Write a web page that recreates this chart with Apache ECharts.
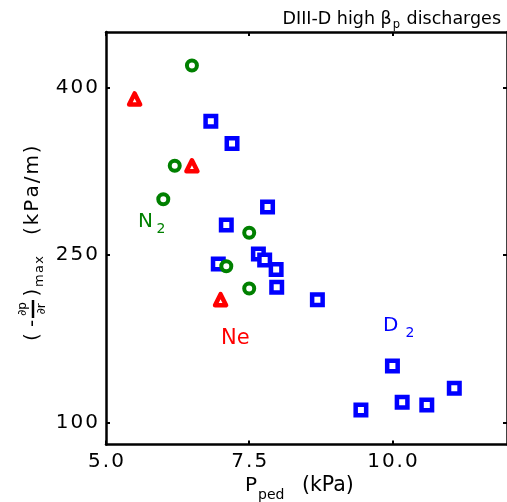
<!DOCTYPE html>
<html>
<head>
<meta charset="utf-8">
<script src="https://cdn.jsdelivr.net/npm/echarts@6/dist/echarts.min.js"></script>
<style>
html,body{margin:0;padding:0;background:#fff;}
#chart{width:507px;height:502px;}
</style>
</head>
<body>
<div id="chart"></div>
<script>
// ---- data ----
const xTicks = [5.0, 7.5, 10.0];
const yTicks = [100, 250, 400];
const xRange = [5, 12];
const yRange = [80, 450];

// D2 discharges (blue squares): [P_ped (kPa), max pressure gradient (kPa/m)]
const d2Data = [
  [6.83, 370], [7.2, 350], [7.82, 293], [7.1, 277], [7.66, 251],
  [7.77, 245.5], [7.97, 237], [6.96, 242], [7.98, 221], [8.69, 210],
  [10.0, 150.5], [9.45, 111], [10.17, 118], [10.6, 115.5], [11.08, 130.5]
];
// N2 seeded (green circles)
const n2Data = [[6.5, 420], [6.2, 330], [6.0, 300], [7.5, 270], [7.1, 240], [7.5, 220]];
// Ne seeded (red triangles)
const neData = [[5.5, 390], [6.5, 330], [7.0, 210]];

const FONT = 'DejaVu Sans';
const spaced = s => String(s).split('').join('\u200A');

const chart = echarts.init(document.getElementById('chart'), null, {renderer: 'canvas'});

const axisLineStyle = {color: '#000', width: 2.5};
const tickStyle = {color: '#000', width: 2};

const option = {
  animation: false,
  backgroundColor: '#fff',
  grid: {left: 106, right: 0, top: 32, bottom: 57.4, containLabel: false},
  xAxis: [{
    type: 'value', min: xRange[0], max: xRange[1], position: 'bottom',
    axisLine: {show: true, onZero: false, lineStyle: axisLineStyle},
    axisTick: {show: true, inside: true, length: 4, lineStyle: tickStyle, customValues: xTicks},
    axisLabel: {show: true, customValues: xTicks, margin: 7, color: '#000',
      fontFamily: FONT, fontSize: 20, formatter: v => spaced(Number(v).toFixed(1))},
    splitLine: {show: false}
  }, {
    type: 'value', min: xRange[0], max: xRange[1], position: 'top',
    axisLine: {show: true, onZero: false, lineStyle: axisLineStyle},
    axisTick: {show: true, inside: true, length: 4, lineStyle: tickStyle, customValues: xTicks},
    axisLabel: {show: false}, splitLine: {show: false}
  }],
  yAxis: [{
    type: 'value', min: yRange[0], max: yRange[1], position: 'left',
    axisLine: {show: true, onZero: false, lineStyle: axisLineStyle},
    axisTick: {show: true, inside: true, length: 4, lineStyle: tickStyle, customValues: yTicks},
    axisLabel: {show: true, customValues: yTicks, margin: 8, color: '#000',
      fontFamily: FONT, fontSize: 20, formatter: v => spaced(String(v))},
    splitLine: {show: false}
  }, {
    type: 'value', min: yRange[0], max: yRange[1], position: 'right',
    axisLine: {show: true, onZero: false, lineStyle: axisLineStyle},
    axisTick: {show: true, inside: true, length: 4, lineStyle: tickStyle, customValues: yTicks},
    axisLabel: {show: false}, splitLine: {show: false}
  }],
  series: [{
    name: 'D2', type: 'scatter', data: d2Data, symbol: 'rect', symbolSize: 10.5,
    itemStyle: {color: '#fff', borderColor: '#0000ff', borderWidth: 4.5, opacity: 1}
  }, {
    name: 'N2', type: 'scatter', data: n2Data, symbol: 'circle', symbolSize: 10,
    itemStyle: {color: '#fff', borderColor: '#008000', borderWidth: 4, opacity: 1}
  }, {
    name: 'Ne', type: 'scatter', data: neData, symbol: 'triangle', symbolSize: 11,
    itemStyle: {color: '#fff', borderColor: '#ff0000', borderWidth: 4.5, borderJoin: 'round', opacity: 1}
  }],
  graphic: [
    // title
    {type: 'text', right: 6, top: 10, style: {
      text: '{a|DIII-D high β}{s|p}{a| discharges}',
      rich: {
        a: {fontFamily: FONT, fontSize: 17.5, fill: '#000', lineHeight: 17, verticalAlign: 'top'},
        s: {fontFamily: FONT, fontSize: 11.5, fill: '#000', lineHeight: 11, padding: [9, 1, 0, 1], verticalAlign: 'top'}
      }
    }},
    // x axis title
    {type: 'text', x: 245, y: 486, style: {text: 'P', fontFamily: FONT, fontSize: 20, fill: '#000', align: 'left', verticalAlign: 'middle'}},
    {type: 'text', x: 258, y: 495, style: {text: 'ped', fontFamily: FONT, fontSize: 14, fill: '#000', align: 'left', verticalAlign: 'middle'}},
    {type: 'text', x: 302, y: 486, style: {text: '(kPa)', fontFamily: FONT, fontSize: 20.5, fill: '#000', align: 'left', verticalAlign: 'middle'}},
    // y axis title (rotated group)
    {type: 'group', x: 32.5, y: 342, rotation: Math.PI / 2, children: [
      {type: 'text', x: 1, y: 0, style: {text: '(', fontFamily: FONT, fontSize: 20, fill: '#000', align: 'left', verticalAlign: 'middle'}},
      {type: 'text', x: 18.5, y: 0, style: {text: '-', fontFamily: FONT, fontSize: 20, fill: '#000', align: 'center', verticalAlign: 'middle'}},
      {type: 'line', shape: {x1: 24, y1: 0.5, x2: 42, y2: 0.5}, style: {stroke: '#000', lineWidth: 2.5}},
      {type: 'text', x: 33, y: -10, style: {text: '∂p', fontFamily: FONT, fontSize: 12, fill: '#000', align: 'center', verticalAlign: 'middle'}},
      {type: 'text', x: 33, y: 9, style: {text: '∂r', fontFamily: FONT, fontSize: 12, fill: '#000', align: 'center', verticalAlign: 'middle'}},
      {type: 'text', x: 49.5, y: 0, style: {text: ')', fontFamily: FONT, fontSize: 20, fill: '#000', align: 'center', verticalAlign: 'middle'}},
      {type: 'text', x: 55, y: 7, style: {text: spaced('max'), fontFamily: FONT, fontSize: 13, fill: '#000', align: 'left', verticalAlign: 'middle'}},
      {type: 'text', x: 107, y: 0, style: {text: spaced('(kPa/m)'), fontFamily: FONT, fontSize: 20, fill: '#000', align: 'left', verticalAlign: 'middle'}}
    ]},
    // annotations
    {type: 'text', x: 138, y: 221.5, style: {text: 'N', fontFamily: FONT, fontSize: 20, fill: '#008000', align: 'left', verticalAlign: 'middle'}},
    {type: 'text', x: 156.5, y: 229, style: {text: '2', fontFamily: FONT, fontSize: 14, fill: '#008000', align: 'left', verticalAlign: 'middle'}},
    {type: 'text', x: 221, y: 339, style: {text: 'Ne', fontFamily: FONT, fontSize: 21, fill: '#ff0000', align: 'left', verticalAlign: 'middle'}},
    {type: 'text', x: 383, y: 325.5, style: {text: 'D', fontFamily: FONT, fontSize: 20, fill: '#0000ff', align: 'left', verticalAlign: 'middle'}},
    {type: 'text', x: 405.5, y: 333, style: {text: '2', fontFamily: FONT, fontSize: 14, fill: '#0000ff', align: 'left', verticalAlign: 'middle'}}
  ]
};
chart.setOption(option);
</script>
</body>
</html>
